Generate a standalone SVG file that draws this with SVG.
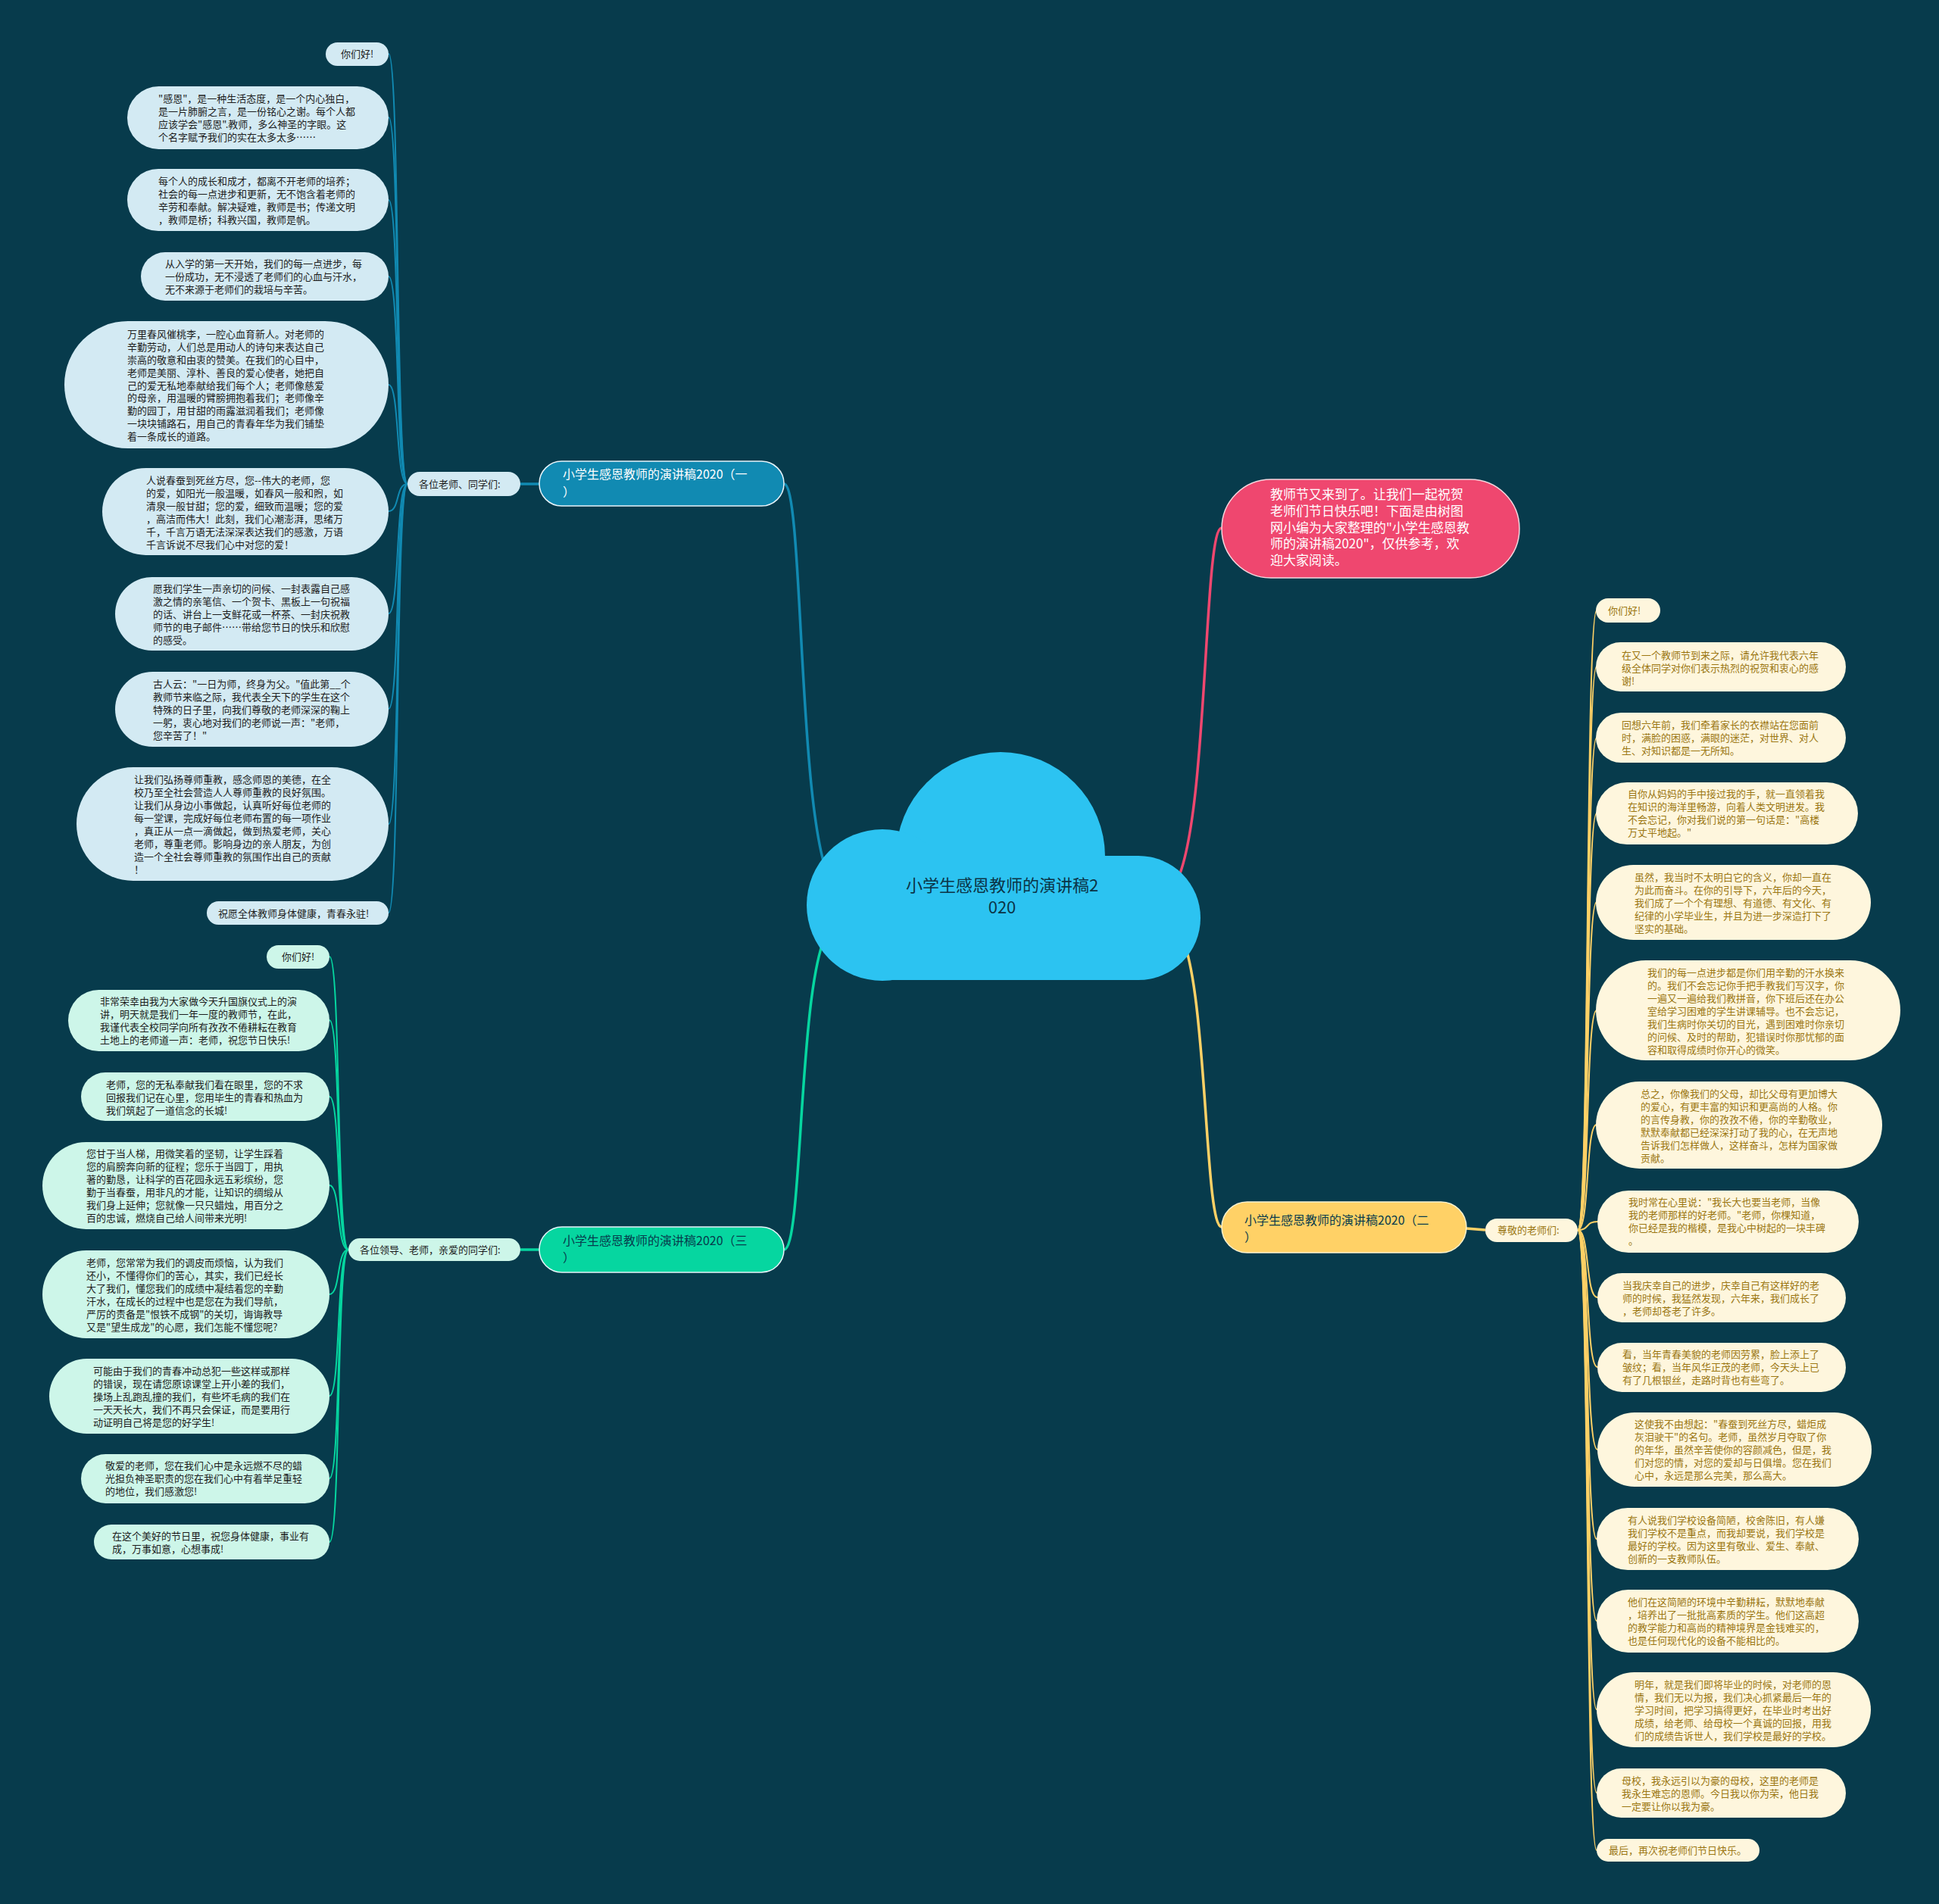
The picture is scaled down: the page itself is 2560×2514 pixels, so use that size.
<svg xmlns="http://www.w3.org/2000/svg" width="2560" height="2514" viewBox="0 0 2560 2514">
<style>
text{font-family:"Noto Sans CJK SC","Noto Sans",sans-serif}
.s13{font-size:13px}
.lb{fill:#d3eaf3}
.lg{fill:#cdf6e9}
.ly{fill:#fef6dd}
.tb{fill:#1c1c1c}
.ty{fill:#9b7612}
.c{fill:none;stroke-width:2}
.m{fill:none;stroke-width:3.5}
.cb{stroke:#118ab2}
.cg{stroke:#06d6a0}
.cy{stroke:#ffd166}
.cp{stroke:#ef476f}
.nb{stroke:#e8f4fa;stroke-width:1.5}
</style>
<rect width="2560" height="2514" fill="#073b4c"/>

<g id="connectors">
  <path class="m cb" d="M1035,639 C1062,639 1052,1100 1100,1170"/>
  <path class="m cg" d="M1035,1650 C1062,1650 1052,1260 1100,1220"/>
  <path class="m cp" d="M1613,697 C1588,697 1596,1100 1550,1170"/>
  <path class="m cy" d="M1613,1620 C1588,1620 1596,1260 1550,1220"/>
  <path class="m cb" d="M687,639 L712,639"/>
  <path class="m cg" d="M687,1650 L712,1650"/>
  <path class="m cy" d="M1936,1622 L1961,1624"/>
  <g class="c cb">
    <path d="M538,639 C522,639 528,71 513,71"/>
    <path d="M538,639 C522,639 528,155 513,155"/>
    <path d="M538,639 C522,639 528,264 513,264"/>
    <path d="M538,639 C522,639 528,365 513,365"/>
    <path d="M538,639 C522,639 528,508 513,508"/>
    <path d="M538,639 C522,639 528,675 513,675"/>
    <path d="M538,639 C522,639 528,810 513,810"/>
    <path d="M538,639 C522,639 528,936 513,936"/>
    <path d="M538,639 C522,639 528,1088 513,1088"/>
    <path d="M538,639 C522,639 528,1205 513,1205"/>
  </g>
  <g class="c cg">
    <path d="M460,1650 C444,1650 450,1263 435,1263"/>
    <path d="M460,1650 C444,1650 450,1347 435,1347"/>
    <path d="M460,1650 C444,1650 450,1448 435,1448"/>
    <path d="M460,1650 C444,1650 450,1565 435,1565"/>
    <path d="M460,1650 C444,1650 450,1709 435,1709"/>
    <path d="M460,1650 C444,1650 450,1843 435,1843"/>
    <path d="M460,1650 C444,1650 450,1952 435,1952"/>
    <path d="M460,1650 C444,1650 450,2036 435,2036"/>
  </g>
  <g class="c cy">
    <path d="M2083,1624 C2099,1624 2093,806 2108,806"/>
    <path d="M2083,1624 C2099,1624 2093,880 2108,880"/>
    <path d="M2083,1624 C2099,1624 2093,974 2108,974"/>
    <path d="M2083,1624 C2099,1624 2093,1074 2108,1074"/>
    <path d="M2083,1624 C2099,1624 2093,1191 2108,1191"/>
    <path d="M2083,1624 C2099,1624 2093,1334 2108,1334"/>
    <path d="M2083,1624 C2099,1624 2093,1485 2108,1485"/>
    <path d="M2083,1624 C2099,1624 2093,1613 2109,1613"/>
    <path d="M2083,1624 C2099,1624 2093,1713 2109,1713"/>
    <path d="M2083,1624 C2099,1624 2093,1805 2109,1805"/>
    <path d="M2083,1624 C2099,1624 2093,1914 2109,1914"/>
    <path d="M2083,1624 C2099,1624 2093,2032 2108,2032"/>
    <path d="M2083,1624 C2099,1624 2093,2140 2108,2140"/>
    <path d="M2083,1624 C2099,1624 2093,2257 2108,2257"/>
    <path d="M2083,1624 C2099,1624 2093,2367 2108,2367"/>
    <path d="M2083,1624 C2099,1624 2093,2443 2108,2443"/>
  </g>
</g>

<g id="center">
  <g fill="#2cc3f1">
    <circle cx="1321" cy="1131" r="138"/>
    <circle cx="1165" cy="1195" r="100"/>
    <circle cx="1503" cy="1212" r="82"/>
    <rect x="1165" y="1130" width="338" height="164"/>
  </g>
  <text x="1323" y="1177" font-size="22" text-anchor="middle" fill="#0b3446">小学生感恩教师的演讲稿2</text>
  <text x="1323" y="1206" font-size="22" text-anchor="middle" fill="#0b3446">020</text>
</g>

<g id="intro">
  <rect x="1613" y="633" width="393" height="130" rx="65" fill="#ef476f" stroke="#f6d6de" stroke-width="1.5"/>
  <text font-size="17" fill="#ffffff">
    <tspan x="1677" y="659">教师节又来到了。让我们一起祝贺</tspan>
    <tspan x="1677" y="681">老师们节日快乐吧！下面是由树图</tspan>
    <tspan x="1677" y="703">网小编为大家整理的"小学生感恩教</tspan>
    <tspan x="1677" y="724">师的演讲稿2020"，仅供参考，欢</tspan>
    <tspan x="1677" y="746">迎大家阅读。</tspan>
  </text>
</g>

<g id="branch1">
  <rect x="712" y="609" width="323" height="59" rx="29.5" fill="#118ab2" class="nb"/>
  <text font-size="16" fill="#ffffff"><tspan x="743" y="632">小学生感恩教师的演讲稿2020（一</tspan><tspan x="743" y="655">）</tspan></text>
</g>
<g id="branch1-label">
  <rect x="538" y="623" width="149" height="32" rx="16" class="lb"/>
  <text class="s13 tb" x="553" y="644">各位老师、同学们:</text>
</g>
<g id="b1-l1"><rect x="430" y="56" width="83" height="31" rx="15.5" class="lb"/><text class="s13 tb" x="471.5" y="76" text-anchor="middle">你们好!</text></g>
<g id="b1-l2"><rect x="168" y="114" width="345" height="83" rx="41.5" class="lb"/><text class="s13 tb"><tspan x="209" y="135">"感恩"，是一种生活态度，是一个内心独白，</tspan><tspan x="209" y="152">是一片肺腑之言，是一份铭心之谢。每个人都</tspan><tspan x="209" y="169">应该学会"感恩".教师，多么神圣的字眼。这</tspan><tspan x="209" y="186">个名字赋予我们的实在太多太多……</tspan></text></g>
<g id="b1-l3"><rect x="168" y="223" width="345" height="82" rx="41" class="lb"/><text class="s13 tb"><tspan x="209" y="244">每个人的成长和成才，都离不开老师的培养；</tspan><tspan x="209" y="261">社会的每一点进步和更新，无不饱含着老师的</tspan><tspan x="209" y="278">辛劳和奉献。解决疑难，教师是书；传递文明</tspan><tspan x="209" y="295">，教师是桥；科教兴国，教师是帆。</tspan></text></g>
<g id="b1-l4"><rect x="186" y="333" width="327" height="64" rx="32" class="lb"/><text class="s13 tb"><tspan x="218" y="353">从入学的第一天开始，我们的每一点进步，每</tspan><tspan x="218" y="370">一份成功，无不浸透了老师们的心血与汗水，</tspan><tspan x="218" y="387">无不来源于老师们的栽培与辛苦。</tspan></text></g>
<g id="b1-l5"><rect x="85" y="424" width="428" height="168" rx="84" class="lb"/><text class="s13 tb"><tspan x="168" y="446">万里春风催桃李，一腔心血育新人。对老师的</tspan><tspan x="168" y="463">辛勤劳动，人们总是用动人的诗句来表达自己</tspan><tspan x="168" y="480">崇高的敬意和由衷的赞美。在我们的心目中，</tspan><tspan x="168" y="497">老师是美丽、淳朴、善良的爱心使者，她把自</tspan><tspan x="168" y="514">己的爱无私地奉献给我们每个人；老师像慈爱</tspan><tspan x="168" y="530">的母亲，用温暖的臂膀拥抱着我们；老师像辛</tspan><tspan x="168" y="547">勤的园丁，用甘甜的雨露滋润着我们；老师像</tspan><tspan x="168" y="564">一块块铺路石，用自己的青春年华为我们铺垫</tspan><tspan x="168" y="581">着一条成长的道路。</tspan></text></g>
<g id="b1-l6"><rect x="135" y="618" width="378" height="115" rx="57.5" class="lb"/><text class="s13 tb"><tspan x="193" y="639">人说春蚕到死丝方尽，您--伟大的老师，您</tspan><tspan x="193" y="656">的爱，如阳光一般温暖，如春风一般和煦，如</tspan><tspan x="193" y="673">清泉一般甘甜；您的爱，细致而温暖；您的爱</tspan><tspan x="193" y="690">，高洁而伟大！此刻，我们心潮澎湃，思绪万</tspan><tspan x="193" y="707">千，千言万语无法深深表达我们的感激，万语</tspan><tspan x="193" y="724">千言诉说不尽我们心中对您的爱！</tspan></text></g>
<g id="b1-l7"><rect x="152" y="762" width="361" height="97" rx="48.5" class="lb"/><text class="s13 tb"><tspan x="202" y="782">愿我们学生一声亲切的问候、一封表露自己感</tspan><tspan x="202" y="799">激之情的亲笔信、一个贺卡、黑板上一句祝福</tspan><tspan x="202" y="816">的话、讲台上一支鲜花或一杯茶、一封庆祝教</tspan><tspan x="202" y="833">师节的电子邮件……带给您节日的快乐和欣慰</tspan><tspan x="202" y="850">的感受。</tspan></text></g>
<g id="b1-l8"><rect x="152" y="887" width="361" height="99" rx="49.5" class="lb"/><text class="s13 tb"><tspan x="202" y="908">古人云："一日为师，终身为父。"值此第__个</tspan><tspan x="202" y="925">教师节来临之际，我代表全天下的学生在这个</tspan><tspan x="202" y="942">特殊的日子里，向我们尊敬的老师深深的鞠上</tspan><tspan x="202" y="959">一躬，衷心地对我们的老师说一声："老师，</tspan><tspan x="202" y="976">您辛苦了！"</tspan></text></g>
<g id="b1-l9"><rect x="101" y="1013" width="412" height="150" rx="75" class="lb"/><text class="s13 tb"><tspan x="177" y="1034">让我们弘扬尊师重教，感念师恩的美德，在全</tspan><tspan x="177" y="1051">校乃至全社会营造人人尊师重教的良好氛围。</tspan><tspan x="177" y="1068">让我们从身边小事做起，认真听好每位老师的</tspan><tspan x="177" y="1085">每一堂课，完成好每位老师布置的每一项作业</tspan><tspan x="177" y="1102">，真正从一点一滴做起，做到热爱老师，关心</tspan><tspan x="177" y="1119">老师，尊重老师。影响身边的亲人朋友，为创</tspan><tspan x="177" y="1136">造一个全社会尊师重教的氛围作出自己的贡献</tspan><tspan x="177" y="1153">！</tspan></text></g>
<g id="b1-l10"><rect x="273" y="1190" width="240" height="31" rx="15.5" class="lb"/><text class="s13 tb" x="288" y="1211">祝愿全体教师身体健康，青春永驻!</text></g>

<g id="branch3">
  <rect x="712" y="1620" width="323" height="60" rx="30" fill="#06d6a0" class="nb"/>
  <text font-size="16" fill="#073b4c"><tspan x="743" y="1644">小学生感恩教师的演讲稿2020（三</tspan><tspan x="743" y="1666">）</tspan></text>
</g>
<g id="branch3-label">
  <rect x="460" y="1635" width="227" height="30" rx="15" class="lg"/>
  <text class="s13 tb" x="475" y="1655">各位领导、老师，亲爱的同学们:</text>
</g>
<g id="b3-l1"><rect x="352" y="1248" width="83" height="31" rx="15.5" class="lg"/><text class="s13 tb" x="393.5" y="1268" text-anchor="middle">你们好!</text></g>
<g id="b3-l2"><rect x="90" y="1307" width="345" height="81" rx="40.5" class="lg"/><text class="s13 tb"><tspan x="132" y="1327">非常荣幸由我为大家做今天升国旗仪式上的演</tspan><tspan x="132" y="1344">讲，明天就是我们一年一度的教师节，在此，</tspan><tspan x="132" y="1361">我谨代表全校同学向所有孜孜不倦耕耘在教育</tspan><tspan x="132" y="1378">土地上的老师道一声：老师，祝您节日快乐!</tspan></text></g>
<g id="b3-l3"><rect x="107" y="1416" width="328" height="64" rx="32" class="lg"/><text class="s13 tb"><tspan x="140" y="1437">老师，您的无私奉献我们看在眼里，您的不求</tspan><tspan x="140" y="1454">回报我们记在心里，您用毕生的青春和热血为</tspan><tspan x="140" y="1471">我们筑起了一道信念的长城!</tspan></text></g>
<g id="b3-l4"><rect x="56" y="1508" width="379" height="115" rx="57.5" class="lg"/><text class="s13 tb"><tspan x="114" y="1528">您甘于当人梯，用微笑着的坚韧，让学生踩着</tspan><tspan x="114" y="1545">您的肩膀奔向新的征程；您乐于当园丁，用执</tspan><tspan x="114" y="1562">著的勤恳，让科学的百花园永远五彩缤纷，您</tspan><tspan x="114" y="1579">勤于当春蚕，用非凡的才能，让知识的绸缎从</tspan><tspan x="114" y="1596">我们身上延伸；您就像一只只蜡烛，用百分之</tspan><tspan x="114" y="1613">百的忠诚，燃烧自己给人间带来光明!</tspan></text></g>
<g id="b3-l5"><rect x="56" y="1651" width="379" height="116" rx="58" class="lg"/><text class="s13 tb"><tspan x="114" y="1672">老师，您常常为我们的调皮而烦恼，认为我们</tspan><tspan x="114" y="1689">还小，不懂得你们的苦心，其实，我们已经长</tspan><tspan x="114" y="1706">大了我们，懂您我们的成绩中凝结着您的辛勤</tspan><tspan x="114" y="1723">汗水，在成长的过程中也是您在为我们导航，</tspan><tspan x="114" y="1740">严厉的责备是"恨铁不成钢"的关切，诲诲教导</tspan><tspan x="114" y="1757">又是"望生成龙"的心愿，我们怎能不懂您呢?</tspan></text></g>
<g id="b3-l6"><rect x="65" y="1794" width="370" height="99" rx="49.5" class="lg"/><text class="s13 tb"><tspan x="123" y="1815">可能由于我们的青春冲动总犯一些这样或那样</tspan><tspan x="123" y="1832">的错误，现在请您原谅课堂上开小差的我们，</tspan><tspan x="123" y="1849">操场上乱跑乱撞的我们，有些坏毛病的我们在</tspan><tspan x="123" y="1866">一天天长大，我们不再只会保证，而是要用行</tspan><tspan x="123" y="1883">动证明自己将是您的好学生!</tspan></text></g>
<g id="b3-l7"><rect x="107" y="1920" width="328" height="65" rx="32.5" class="lg"/><text class="s13 tb"><tspan x="139" y="1940">敬爱的老师，您在我们心中是永远燃不尽的蜡</tspan><tspan x="139" y="1957">光担负神圣职责的您在我们心中有着举足重轻</tspan><tspan x="139" y="1974">的地位，我们感激您!</tspan></text></g>
<g id="b3-l8"><rect x="124" y="2013" width="311" height="46" rx="23" class="lg"/><text class="s13 tb"><tspan x="148" y="2033">在这个美好的节日里，祝您身体健康，事业有</tspan><tspan x="148" y="2050">成，万事如意，心想事成!</tspan></text></g>

<g id="branch2">
  <rect x="1613" y="1587" width="323" height="67" rx="33.5" fill="#ffd166" stroke="#fff3cf" stroke-width="1.5"/>
  <text font-size="16" fill="#073b4c"><tspan x="1643" y="1617">小学生感恩教师的演讲稿2020（二</tspan><tspan x="1643" y="1639">）</tspan></text>
</g>
<g id="branch2-label">
  <rect x="1961" y="1609" width="122" height="31" rx="15.5" class="ly"/>
  <text class="s13 ty" x="1977" y="1629">尊敬的老师们:</text>
</g>
<g id="b2-l1"><rect x="2107" y="790" width="85" height="32" rx="16" class="ly"/><text class="s13 ty" x="2123" y="811">你们好!</text></g>
<g id="b2-l2"><rect x="2107" y="848" width="330" height="65" rx="32.5" class="ly"/><text class="s13 ty"><tspan x="2141" y="870">在又一个教师节到来之际，请允许我代表六年</tspan><tspan x="2141" y="887">级全体同学对你们表示热烈的祝贺和衷心的感</tspan><tspan x="2141" y="904">谢!</tspan></text></g>
<g id="b2-l3"><rect x="2107" y="941" width="330" height="66" rx="33" class="ly"/><text class="s13 ty"><tspan x="2141" y="962">回想六年前，我们牵着家长的衣襟站在您面前</tspan><tspan x="2141" y="979">时，满脸的困惑，满眼的迷茫，对世界、对人</tspan><tspan x="2141" y="996">生、对知识都是一无所知。</tspan></text></g>
<g id="b2-l4"><rect x="2107" y="1033" width="346" height="82" rx="41" class="ly"/><text class="s13 ty"><tspan x="2149" y="1053">自你从妈妈的手中接过我的手，就一直领着我</tspan><tspan x="2149" y="1070">在知识的海洋里畅游，向着人类文明进发。我</tspan><tspan x="2149" y="1087">不会忘记，你对我们说的第一句话是："高楼</tspan><tspan x="2149" y="1104">万丈平地起。"</tspan></text></g>
<g id="b2-l5"><rect x="2107" y="1142" width="363" height="99" rx="49.5" class="ly"/><text class="s13 ty"><tspan x="2158" y="1163">虽然，我当时不太明白它的含义，你却一直在</tspan><tspan x="2158" y="1180">为此而奋斗。在你的引导下，六年后的今天，</tspan><tspan x="2158" y="1197">我们成了一个个有理想、有道德、有文化、有</tspan><tspan x="2158" y="1214">纪律的小学毕业生，并且为进一步深造打下了</tspan><tspan x="2158" y="1231">坚实的基础。</tspan></text></g>
<g id="b2-l6"><rect x="2107" y="1268" width="402" height="132" rx="66" class="ly"/><text class="s13 ty"><tspan x="2175" y="1289">我们的每一点进步都是你们用辛勤的汗水换来</tspan><tspan x="2175" y="1306">的。我们不会忘记你手把手教我们写汉字，你</tspan><tspan x="2175" y="1323">一遍又一遍给我们教拼音，你下班后还在办公</tspan><tspan x="2175" y="1340">室给学习困难的学生讲课辅导。也不会忘记，</tspan><tspan x="2175" y="1357">我们生病时你关切的目光，遇到困难时你亲切</tspan><tspan x="2175" y="1374">的问候、及时的帮助，犯错误时你那忧郁的面</tspan><tspan x="2175" y="1391">容和取得成绩时你开心的微笑。</tspan></text></g>
<g id="b2-l7"><rect x="2107" y="1428" width="378" height="115" rx="57.5" class="ly"/><text class="s13 ty"><tspan x="2166" y="1449">总之，你像我们的父母，却比父母有更加博大</tspan><tspan x="2166" y="1466">的爱心，有更丰富的知识和更高尚的人格。你</tspan><tspan x="2166" y="1483">的言传身教，你的孜孜不倦，你的辛勤敬业，</tspan><tspan x="2166" y="1500">默默奉献都已经深深打动了我的心，在无声地</tspan><tspan x="2166" y="1517">告诉我们怎样做人，这样奋斗，怎样为国家做</tspan><tspan x="2166" y="1534">贡献。</tspan></text></g>
<g id="b2-l8"><rect x="2109" y="1572" width="345" height="82" rx="41" class="ly"/><text class="s13 ty"><tspan x="2150" y="1592">我时常在心里说："我长大也要当老师，当像</tspan><tspan x="2150" y="1609">我的老师那样的好老师。"老师，你棵知道，</tspan><tspan x="2150" y="1626">你已经是我的楷模，是我心中树起的一块丰碑</tspan><tspan x="2150" y="1643">。</tspan></text></g>
<g id="b2-l9"><rect x="2109" y="1681" width="328" height="65" rx="32.5" class="ly"/><text class="s13 ty"><tspan x="2142" y="1702">当我庆幸自己的进步，庆幸自己有这样好的老</tspan><tspan x="2142" y="1719">师的时候，我猛然发现，六年来，我们成长了</tspan><tspan x="2142" y="1736">，老师却苍老了许多。</tspan></text></g>
<g id="b2-l10"><rect x="2109" y="1773" width="328" height="65" rx="32.5" class="ly"/><text class="s13 ty"><tspan x="2142" y="1793">看，当年青春美貌的老师因劳累，脸上添上了</tspan><tspan x="2142" y="1810">皱纹；看，当年风华正茂的老师，今天头上已</tspan><tspan x="2142" y="1827">有了几根银丝，走路时背也有些弯了。</tspan></text></g>
<g id="b2-l11"><rect x="2109" y="1865" width="362" height="98" rx="49" class="ly"/><text class="s13 ty"><tspan x="2158" y="1885">这使我不由想起："春蚕到死丝方尽，蜡炬成</tspan><tspan x="2158" y="1902">灰泪驶干"的名句。老师，虽然岁月夺取了你</tspan><tspan x="2158" y="1919">的年华，虽然辛苦使你的容颜减色，但是，我</tspan><tspan x="2158" y="1936">们对您的情，对您的爱却与日俱增。您在我们</tspan><tspan x="2158" y="1953">心中，永远是那么完美，那么高大。</tspan></text></g>
<g id="b2-l12"><rect x="2108" y="1991" width="346" height="82" rx="41" class="ly"/><text class="s13 ty"><tspan x="2149" y="2012">有人说我们学校设备简陋，校舍陈旧，有人嫌</tspan><tspan x="2149" y="2029">我们学校不是重点，而我却要说，我们学校是</tspan><tspan x="2149" y="2046">最好的学校。因为这里有敬业、爱生、奉献、</tspan><tspan x="2149" y="2063">创新的一支教师队伍。</tspan></text></g>
<g id="b2-l13"><rect x="2108" y="2099" width="346" height="83" rx="41.5" class="ly"/><text class="s13 ty"><tspan x="2149" y="2120">他们在这简陋的环境中辛勤耕耘，默默地奉献</tspan><tspan x="2149" y="2137">，培养出了一批批高素质的学生。他们这高超</tspan><tspan x="2149" y="2154">的教学能力和高尚的精神境界是金钱难买的，</tspan><tspan x="2149" y="2171">也是任何现代化的设备不能相比的。</tspan></text></g>
<g id="b2-l14"><rect x="2108" y="2208" width="362" height="99" rx="49.5" class="ly"/><text class="s13 ty"><tspan x="2158" y="2229">明年，就是我们即将毕业的时候，对老师的恩</tspan><tspan x="2158" y="2246">情，我们无以为报，我们决心抓紧最后一年的</tspan><tspan x="2158" y="2263">学习时间，把学习搞得更好，在毕业时考出好</tspan><tspan x="2158" y="2280">成绩，给老师、给母校一个真诚的回报，用我</tspan><tspan x="2158" y="2297">们的成绩告诉世人，我们学校是最好的学校。</tspan></text></g>
<g id="b2-l15"><rect x="2108" y="2335" width="329" height="65" rx="32.5" class="ly"/><text class="s13 ty"><tspan x="2141" y="2356">母校，我永远引以为豪的母校，这里的老师是</tspan><tspan x="2141" y="2373">我永生难忘的恩师。今日我以你为荣，他日我</tspan><tspan x="2141" y="2390">一定要让你以我为豪。</tspan></text></g>
<g id="b2-l16"><rect x="2108" y="2428" width="215" height="30" rx="15" class="ly"/><text class="s13 ty" x="2124" y="2448">最后，再次祝老师们节日快乐。</text></g>
</svg>
